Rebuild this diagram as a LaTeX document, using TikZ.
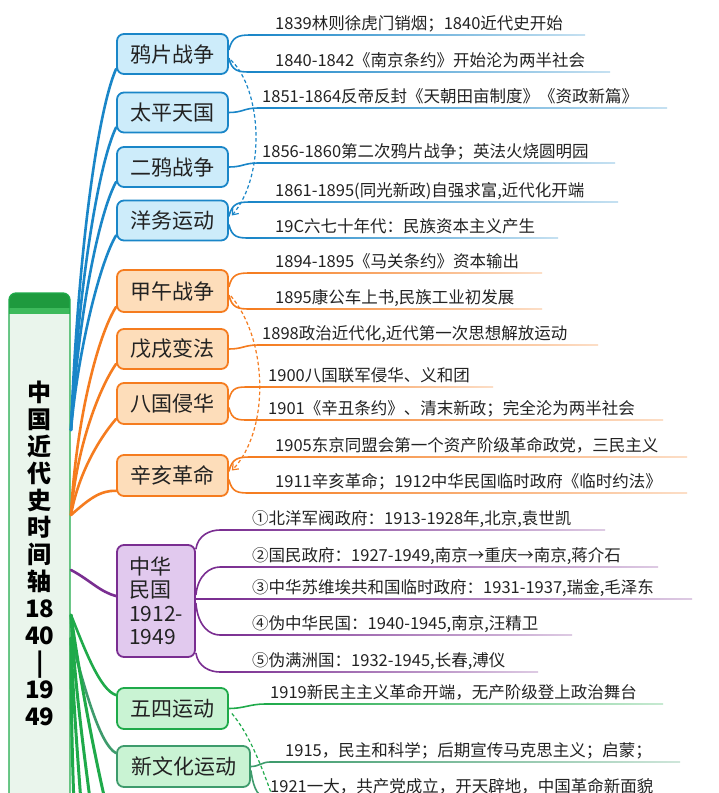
\documentclass[tikz,border=0pt]{standalone}
\usepackage{fontspec}
\setmainfont{Noto Sans CJK SC}
\usetikzlibrary{arrows.meta}
\definecolor{bl}{HTML}{1A86C8}
\definecolor{blfill}{HTML}{CDECFA}
\definecolor{org}{HTML}{F57C1F}
\definecolor{orgfill}{HTML}{FDDDBA}
\definecolor{pur}{HTML}{7A2E91}
\definecolor{purfill}{HTML}{E1C9EE}
\definecolor{grn}{HTML}{1FAA4A}
\definecolor{grnfill}{HTML}{C9F3D3}
\definecolor{tgrn}{HTML}{3E9B6C}
\definecolor{rootdark}{HTML}{1E9A3E}
\definecolor{rootmid}{HTML}{3DBA5C}
\definecolor{rootfill}{HTML}{EAF5EC}
\definecolor{txt}{HTML}{222222}
\tikzset{
  mnode/.style={draw, line width=1.8, rounded corners=7, inner sep=0, text=txt,
    minimum width=111, minimum height=40, font=\fontsize{21}{23.5}\selectfont},
  bnode/.style={mnode, draw=bl, fill=blfill},
  onode/.style={mnode, draw=org, fill=orgfill},
  pnode/.style={mnode, draw=pur, fill=purfill},
  gnode/.style={mnode, draw=grn, fill=grnfill},
  tnode/.style={mnode, draw=tgrn, fill=grnfill},
  leaf/.style={inner sep=0, text=txt, font=\fontsize{16.5}{18}\selectfont},
  conn/.style={line width=1.6},
  branch/.style={line width=2.6, line cap=round},
  dashlink/.style={line width=1.2, dash pattern=on 3.5pt off 2.5pt,
    -{Straight Barb[length=5pt,width=8pt]}},
}
\newcommand{\mmleaf}[7]{%
  \coordinate (#1s) at (#3,#5);
  \shade[left color=#2, right color=#2!25] (#3,#5-0.8) rectangle (#6,#5+0.8);
  \node[leaf, anchor=base west] (#1) at (#4,#5-6) {#7};
}
\begin{document}
\begin{tikzpicture}[x=1pt,y=-1pt]
\useasboundingbox (0,0) rectangle (718,793);
\clip (0,0) rectangle (718,793);
\fill[white] (0,0) rectangle (718,793);

% root box
\begin{scope}
  \clip[rounded corners=7] (9,293) rectangle (70,850);
  \fill[rootfill] (9,293) rectangle (70,850);
  \fill[rootdark] (9,293) rectangle (70,308);
  \fill[rootmid] (9,308) rectangle (70,314);
\end{scope}
\draw[grn, line width=1.3, rounded corners=7] (9,293) rectangle (70,850);
\node[text=black, align=center, inner sep=0,
  font=\bfseries\fontsize{24}{27}\selectfont] (root) at (40,553)
  {中\\国\\近\\代\\史\\时\\间\\轴\\18\\40\\|\\19\\49};

% root attach points
\coordinate (rB) at (71,430);
\coordinate (rO) at (71,515);
\coordinate (rP) at (71,570);
\coordinate (rG1) at (71,615);
\coordinate (rG2) at (71,638);
\coordinate (g1e) at (112,830);
\coordinate (g2e) at (94,830);
\coordinate (g3e) at (83,830);
\coordinate (g4e) at (75,830);
\coordinate (g5e) at (282,825);

% main nodes
\node[bnode] (yp) at (172.5,54) {鸦片战争};
\node[bnode] (tp) at (172.5,112.5) {太平天国};
\node[bnode] (ey) at (172.5,167) {二鸦战争};
\node[bnode] (yw) at (172.5,220.5) {洋务运动};
\node[onode, minimum height=42] (jw) at (172.5,291) {甲午战争};
\node[onode] (wx) at (172.5,349) {戊戌变法};
\node[onode, minimum height=41] (bg) at (172.5,403.5) {八国侵华};
\node[onode, minimum height=41] (xh) at (172.5,475.5) {辛亥革命};
\node[pnode, minimum width=78, minimum height=112, align=left] (zh) at (156,601)
  {中华\\民国\\1912-\\1949};
\node[gnode, minimum height=41] (ws) at (172.5,708.5) {五四运动};
\node[tnode, minimum width=133, minimum height=41] (xwh) at (183.5,766.5) {新文化运动};

% leaves
\mmleaf{a1}{bl}{250}{275}{35}{585}{1839林则徐虎门销烟；1840近代史开始}
\mmleaf{a2}{bl}{250}{275}{72}{610}{1840-1842《南京条约》开始沦为两半社会}
\mmleaf{a3}{bl}{258}{262}{108}{667}{1851-1864反帝反封《天朝田亩制度》《资政新篇》}
\mmleaf{a4}{bl}{258}{262}{163}{615}{1856-1860第二次鸦片战争；英法火烧圆明园}
\mmleaf{a5}{bl}{250}{275}{202}{618}{1861-1895(同光新政)自强求富,近代化开端}
\mmleaf{a6}{bl}{250}{275}{238}{558}{19C六七十年代：民族资本主义产生}
\mmleaf{b1}{org}{250}{275}{273}{542}{1894-1895《马关条约》资本输出}
\mmleaf{b2}{org}{250}{275}{309}{542}{1895康公车上书,民族工业初发展}
\mmleaf{b3}{org}{258}{262}{345}{598}{1898政治近代化,近代第一次思想解放运动}
\mmleaf{b4}{org}{250}{268}{387}{493}{1900八国联军侵华、义和团}
\mmleaf{b5}{org}{250}{268}{420}{663}{1901《辛丑条约》、清末新政；完全沦为两半社会}
\mmleaf{b6}{org}{250}{275}{457}{687}{1905东京同盟会第一个资产阶级革命政党，三民主义}
\mmleaf{b7}{org}{250}{275}{493}{687}{1911辛亥革命；1912中华民国临时政府《临时约法》}
\mmleaf{c1}{pur}{220}{252}{530}{605}{①北洋军阀政府：1913-1928年,北京,袁世凯}
\mmleaf{c2}{pur}{220}{252}{567}{658}{②国民政府：1927-1949,南京→重庆→南京,蒋介石}
\mmleaf{c3}{pur}{215}{252}{599}{692}{③中华苏维埃共和国临时政府：1931-1937,瑞金,毛泽东}
\mmleaf{c4}{pur}{220}{252}{635}{572}{④伪中华民国：1940-1945,南京,汪精卫}
\mmleaf{c5}{pur}{220}{252}{672}{538}{⑤伪满洲国：1932-1945,长春,溥仪}
\mmleaf{d1}{grn}{265}{270}{704}{663}{1919新民主主义革命开端，无产阶级登上政治舞台}
\mmleaf{d2}{tgrn}{270}{285}{762}{680}{1915，民主和科学；后期宣传马克思主义；启蒙；}
\mmleaf{d3}{tgrn}{270}{270}{798}{700}{1921一大，共产党成立，开天辟地，中国革命新面貌}

% node-to-leaf connectors
\begin{scope}[conn, bl]
\draw ([yshift=4pt]yp.east) .. controls +(3,-13) and +(-12,0) .. (a1s);
\draw ([yshift=-4pt]yp.east) .. controls +(3,13) and +(-12,0) .. (a2s);
\draw (tp.east) .. controls +(14,0) and +(-14,0) .. (a3s);
\draw (ey.east) .. controls +(14,0) and +(-14,0) .. (a4s);
\draw ([yshift=4pt]yw.east) .. controls +(3,-13) and +(-12,0) .. (a5s);
\draw ([yshift=-4pt]yw.east) .. controls +(3,13) and +(-12,0) .. (a6s);
\end{scope}
\begin{scope}[conn, org]
\draw ([yshift=4pt]jw.east) .. controls +(3,-13) and +(-12,0) .. (b1s);
\draw ([yshift=-4pt]jw.east) .. controls +(3,13) and +(-12,0) .. (b2s);
\draw (wx.east) .. controls +(14,0) and +(-14,0) .. (b3s);
\draw ([yshift=4pt]bg.east) .. controls +(3,-13) and +(-12,0) .. (b4s);
\draw ([yshift=-4pt]bg.east) .. controls +(3,13) and +(-12,0) .. (b5s);
\draw ([yshift=4pt]xh.east) .. controls +(3,-13) and +(-12,0) .. (b6s);
\draw ([yshift=-4pt]xh.east) .. controls +(3,13) and +(-12,0) .. (b7s);
\end{scope}
\begin{scope}[conn, pur]
\draw ([yshift=-5pt]zh.north east) .. controls +(2,-14) and +(-10,0) .. (c1s);
\draw ([yshift=6pt]zh.east) .. controls +(2,-20) and +(-10,0) .. (c2s);
\draw ([yshift=2pt]zh.east) -- (c3s);
\draw ([yshift=-2pt]zh.east) .. controls +(2,24) and +(-10,0) .. (c4s);
\draw ([yshift=5pt]zh.south east) .. controls +(2,14) and +(-10,0) .. (c5s);
\end{scope}
\draw[conn, grn] (ws.east) .. controls +(15,0) and +(-15,0) .. (d1s);
\draw[conn, tgrn] (xwh.east) .. controls +(8,0) and +(-8,0) .. (d2s);
\draw[conn, tgrn] ([yshift=-4pt]xwh.east) .. controls +(3,20) and +(-12,0) .. (d3s);

% root-to-node branches
\begin{scope}[branch, bl]
\draw (rB) .. controls (78,250) and (98,110) .. ([yshift=6pt]yp.south west);
\draw (rB) .. controls (78,290) and (98,165) .. ([yshift=6pt]tp.south west);
\draw (rB) .. controls (78,320) and (98,215) .. ([yshift=6pt]ey.south west);
\draw (rB) .. controls (78,350) and (100,262) .. ([yshift=6pt]yw.south west);
\end{scope}
\begin{scope}[branch, org]
\draw (rO) .. controls (76,420) and (98,335) .. ([yshift=6pt]jw.south west);
\draw (rO) .. controls (76,450) and (98,390) .. ([yshift=6pt]wx.south west);
\draw (rO) .. controls (78,475) and (98,440) .. ([yshift=6pt]bg.south west);
\draw (rO) .. controls (88,500) and (100,490) .. ([yshift=6pt]xh.south west);
\end{scope}
\draw[branch, pur] (rP) .. controls (90,580) and (100,592) .. ([yshift=5pt]zh.west);
\draw[branch, grn] (rG1) .. controls (85,650) and (100,690) .. ([yshift=-8pt]ws.north west);
\draw[branch, tgrn] (rG2) .. controls (85,690) and (100,745) .. ([yshift=-8pt]xwh.north west);
\begin{scope}[branch, grn, line width=3]
\draw (rG1) .. controls (80,680) and (95,760) .. (g1e);
\draw (rG1) .. controls (75,690) and (85,760) .. (g2e);
\draw (rG2) .. controls (73,700) and (78,760) .. (g3e);
\draw (rG2) .. controls (71,700) and (72,760) .. (g4e);
\end{scope}

% dashed links
\draw[dashlink, bl] ([shift={(2pt,-6pt)}]yp.east) .. controls (262,90) and (266,175) .. ([shift={(3pt,5pt)}]yw.east);
\draw[dashlink, org] ([shift={(2pt,-5pt)}]jw.east) .. controls (268,340) and (270,430) .. ([shift={(3pt,5pt)}]xh.east);
\draw[line width=1.2, dash pattern=on 3.5pt off 2.5pt, grn] ([shift={(3pt,-5pt)}]ws.east) .. controls (250,735) and (264,770) .. (g5e);
\end{tikzpicture}
\end{document}
